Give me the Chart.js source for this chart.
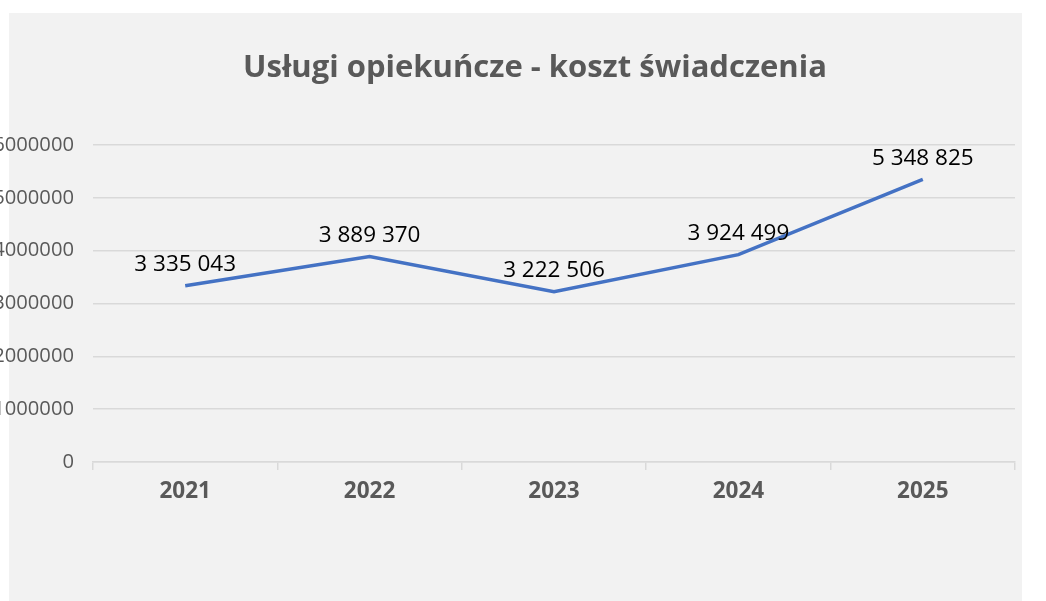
<!DOCTYPE html>
<html>
<head>
<meta charset="utf-8">
<script src="https://cdn.jsdelivr.net/npm/chart.js@4/dist/chart.umd.min.js"></script>
<style>
  html, body { margin: 0; padding: 0; background: #ffffff; }
  #wrap { position: relative; width: 1046px; height: 601px; }
  #title {
    position: absolute; left: 0; width: 1070px; top: 44px;
    text-align: center; color: #595959;
    font: bold 31px "Open Sans", "Noto Sans", sans-serif;
    line-height: 42px; white-space: nowrap;
  }
</style>
</head>
<body>
<div id="wrap">
  <canvas id="chart" width="1046" height="601"></canvas>
  <div id="title"></div>
</div>
<script>
// --------------------
// Data
// --------------------
const titleText = 'Usługi opiekuńcze - koszt świadczenia';
const years = ['2021', '2022', '2023', '2024', '2025'];
const costs = [3335043, 3889370, 3222506, 3924499, 5348825];
const yTicks = [0, 1000000, 2000000, 3000000, 4000000, 5000000, 6000000];

const fontName = '"Open Sans", "Noto Sans", sans-serif';

document.getElementById('title').textContent = titleText;

// number with spaces as thousand separators, like "3 335 043"
function fmt(v) {
    return String(v).replace(/\B(?=(\d{3})+(?!\d))/g, ' ');
}

// gray panel behind the chart
const panelPlugin = {
    id: 'panel',
    beforeDraw(chart) {
        const ctx = chart.ctx;
        ctx.save();
        ctx.fillStyle = '#f2f2f2';
        ctx.fillRect(9, 13, 1013, 588);
        ctx.restore();
    }
};

// value labels above each point
const valueLabels = {
    id: 'valueLabels',
    afterDatasetsDraw(chart) {
        const ctx = chart.ctx;
        const meta = chart.getDatasetMeta(0);
        ctx.save();
        ctx.font = '22.5px ' + fontName;
        ctx.fillStyle = '#000000';
        ctx.textAlign = 'center';
        ctx.textBaseline = 'middle';
        meta.data.forEach((pt, i) => {
            ctx.fillText(fmt(costs[i]), pt.x, pt.y - 21);
        });
        ctx.restore();
    }
};

const ctx = document.getElementById('chart').getContext('2d');
new Chart(ctx, {
    type: 'line',
    data: {
        labels: years,
        datasets: [{
            label: 'koszt',
            data: costs,
            borderColor: '#4472c4',
            borderWidth: 3.5,
            pointRadius: 0,
            tension: 0
        }]
    },
    options: {
        responsive: false,
        animation: false,
        layout: { padding: { left: 0, right: 31, top: 145, bottom: 0 } },
        plugins: {
            legend: { display: false },
            tooltip: { enabled: false },
            title: { display: false }
        },
        scales: {
            x: {
                offset: true,
                grid: {
                    offset: true,
                    drawOnChartArea: false,
                    drawTicks: true,
                    tickLength: 8,
                    color: '#d9d9d9',
                    lineWidth: 1.5
                },
                border: { color: '#d9d9d9', width: 1.5 },
                ticks: {
                    color: '#595959',
                    padding: 8,
                    font: { family: fontName, size: 22.5, weight: 'bold' }
                },
                afterFit(scale) { scale.height = 139; }
            },
            y: {
                min: 0,
                max: 6000000,
                afterBuildTicks(scale) {
                    scale.ticks = yTicks.map(v => ({ value: v }));
                },
                grid: { color: '#d9d9d9', lineWidth: 1.5, drawTicks: false },
                border: { display: false },
                ticks: {
                    color: '#595959',
                    padding: 19,
                    font: { family: fontName, size: 20.2 },
                    callback: v => String(v)
                },
                afterFit(scale) { scale.width = 93; }
            }
        }
    },
    plugins: [panelPlugin, valueLabels]
});
</script>
</body>
</html>
